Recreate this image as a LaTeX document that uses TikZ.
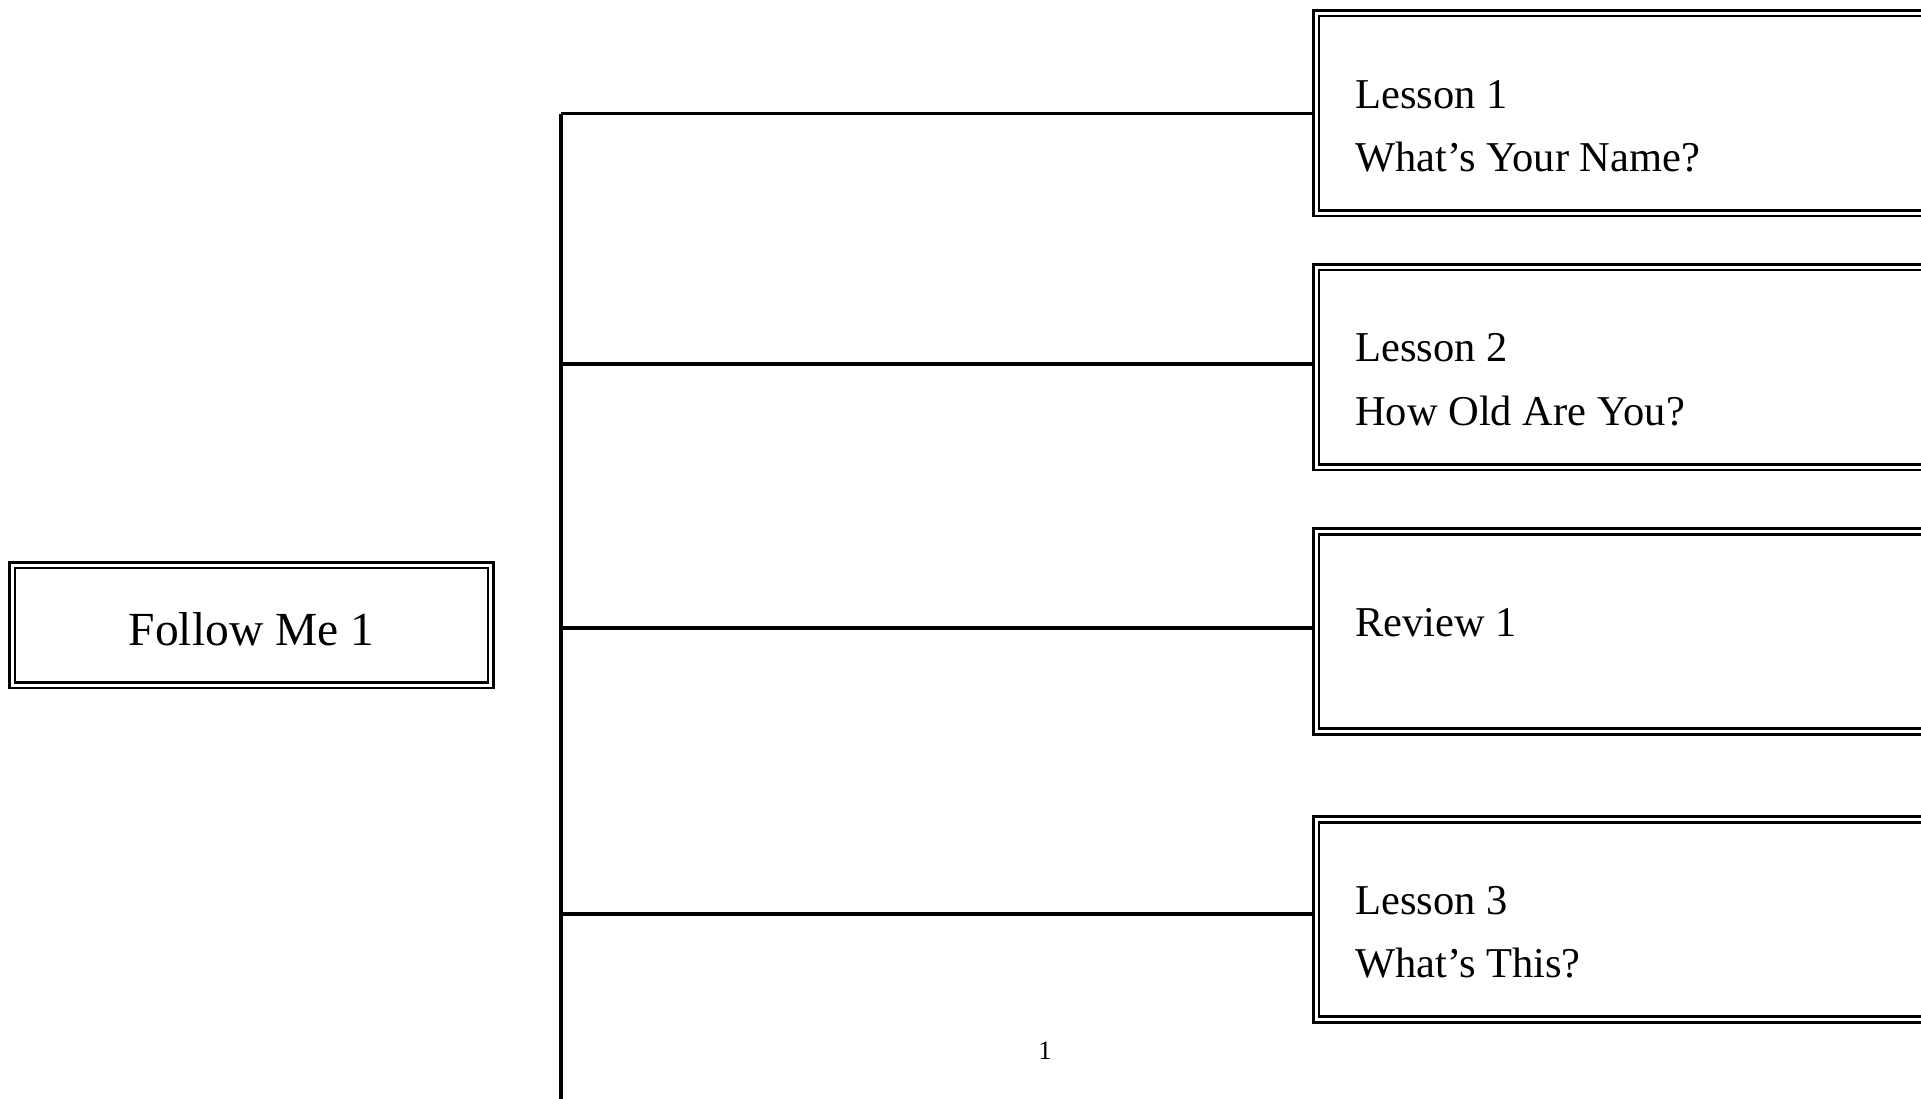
\documentclass[tikz,border=0pt]{standalone}
\usepackage{fontspec}
\setmainfont{Liberation Serif}
\usetikzlibrary{calc}
\begin{document}
\begin{tikzpicture}[x=1pt,y=-1pt,
  dbox/.style={rectangle, draw, double, line width=2.6pt, double distance=3pt, outer sep=0pt, inner sep=0pt},
  lessonbox/.style={dbox, minimum width=624pt, minimum height=200pt},
  conn/.style={line width=3.7pt},
  lbl/.style={font=\fontsize{42.5}{63.5}\selectfont, anchor=base west, inner sep=0pt, align=left}]
\useasboundingbox[fill=white] (0,0) rectangle (1921,1098);

% junctions on the trunk
\coordinate (j1) at (561,113.5);
\coordinate (j2) at (561,364);
\coordinate (j3) at (561,627.7);
\coordinate (j4) at (561,914);
\coordinate (jb) at (561,1102);

% boxes
\node[dbox, minimum width=478.5pt, minimum height=120pt,
      font=\fontsize{47.5}{56}\selectfont, text height=40pt, text depth=0pt] (root) at (251.5,625) {Follow Me 1};
\node[lessonbox] (b1) at (1628,113.25) {};
\node[lessonbox] (b2) at (1628,367.25) {};
\node[lessonbox] (b3) at (1628,631.5) {};
\node[lessonbox] (b4) at (1628,919.5) {};

\draw[conn] (j1) -- (jb);
\draw[conn, shorten >=3pt] (j1) -- (j1 -| b1.west);
\draw[conn, shorten >=3pt] (j2) -- (j2 -| b2.west);
\draw[conn, shorten >=3pt] (j3) -- (j3 -| b3.west);
\draw[conn, shorten >=3pt] (j4) -- (j4 -| b4.west);

% texts (base anchor = baseline of the last line)
\node[lbl] (t1) at ($(b1.north west)+(39,158.5)$) {Lesson 1\\What’s Your Name?};
\node[lbl] (t2) at ($(b2.north west)+(39,158)$) {Lesson 2\\How Old Are You?};
\node[lbl] (t3) at ($(b3.north west)+(39,104.5)$) {Review 1};
\node[lbl] (t4) at ($(b4.north west)+(39,158)$) {Lesson 3\\What’s This?};

\node[font=\fontsize{26.6}{30}\selectfont, anchor=base, inner sep=0pt] (pg) at (1045,1059) {1};
\end{tikzpicture}
\end{document}
